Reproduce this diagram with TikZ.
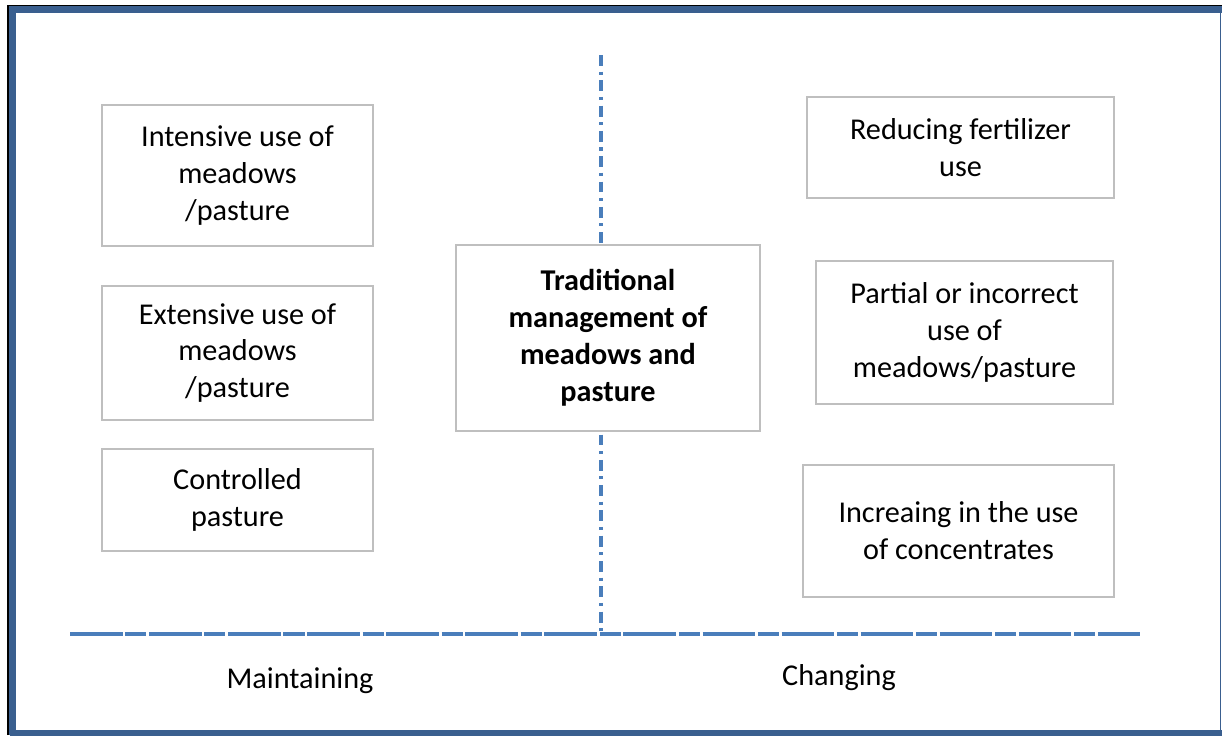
\documentclass[tikz,border=0pt]{standalone}
\usepackage{fontspec}
\setmainfont{Carlito}
\definecolor{frameblue}{HTML}{3A5F8F}
\definecolor{lineblue}{HTML}{4A7EBB}
\definecolor{boxgray}{HTML}{BFBFBF}
\begin{document}
\begin{tikzpicture}[x=0.02cm,y=-0.02cm,
  box/.style={draw=boxgray, line width=1.4pt, fill=white, align=center, inner sep=0pt,
    font=\fontsize{17.2}{21}\selectfont},
  lbl/.style={font=\fontsize{17.2}{21}\selectfont, inner sep=0pt},
  axis/.style={draw=lineblue, line width=1.8pt}]
\useasboundingbox (0,0) rectangle (1222,735);
\fill[white] (0,0) rectangle (1222,735);
% frame
\draw[black, line width=0.9pt] (8,735) -- (8,5.5) -- (1222,5.5);
\draw[frameblue, line width=3.6pt] (12.5,735) -- (12.5,9.5) -- (1222,9.5);
\draw[frameblue, line width=3.2pt] (10,733) -- (1222,733);
\draw[frameblue, line width=1.1pt] (1220.5,9) -- (1220.5,735);
% axes
\coordinate (vtop) at (601,55);
\coordinate (vbot) at (601,634);
\coordinate (hl) at (70,634);
\coordinate (hr) at (1140,634);
\draw[axis, dash pattern=on 6.2pt off 3.2pt on 1.8pt off 3.2pt] (vtop) -- (vbot);
\draw[axis, dash pattern=on 30pt off 1.5pt on 12pt off 1.5pt] (hl) -- (hr);
% boxes
\node[box, minimum width=5.42cm, minimum height=2.82cm] (int) at (237.5,175.5) {Intensive use of\\meadows\\/pasture};
\node[box, minimum width=5.42cm, minimum height=2.68cm] (ext) at (237.5,353) {Extensive use of\\meadows\\/pasture};
\node[box, minimum width=5.42cm, minimum height=2.04cm] (con) at (237.5,500) {Controlled\\pasture};
\node[box, minimum width=6.08cm, minimum height=3.72cm, font=\fontsize{17.2}{21}\selectfont\bfseries] (trad) at (608,338) {Traditional\\management of\\meadows and\\pasture};
\node[box, minimum width=6.14cm, minimum height=2.02cm] (red) at (960.5,147.5) {Reducing fertilizer\\use};
\node[box, minimum width=5.94cm, minimum height=2.86cm] (par) at (964.5,332.5) {Partial or incorrect\\use of\\meadows/pasture};
\node[box, minimum width=6.22cm, minimum height=2.64cm] (inc) at (958.5,531) {Increaing in the use\\of concentrates};
% labels
\node[lbl] (main) at (300,681) {Maintaining};
\node[lbl] (chg) at (839,678) {Changing};
\end{tikzpicture}
\end{document}
